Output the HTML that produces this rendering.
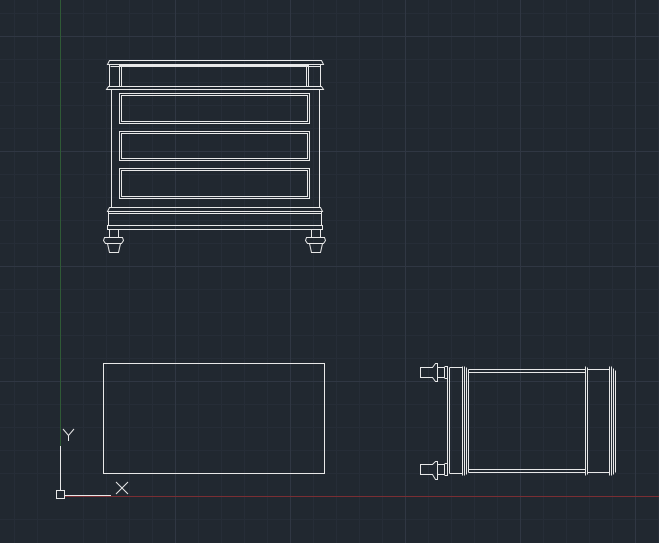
<!DOCTYPE html>
<html><head><meta charset="utf-8"><style>
html,body{margin:0;padding:0;background:#212830;overflow:hidden}
svg{display:block}
text{font-family:"Liberation Sans",sans-serif}
</style></head><body>
<svg width="659" height="543" viewBox="0 0 659 543" xmlns="http://www.w3.org/2000/svg">
<rect width="659" height="543" fill="#212830"/>
<g stroke="#262d37" stroke-width="1">
<path d="M14.5 0V543M37.5 0V543M83.5 0V543M106.5 0V543M129.5 0V543M152.5 0V543M198.5 0V543M221.5 0V543M244.5 0V543M267.5 0V543M313.5 0V543M336.5 0V543M359.5 0V543M382.5 0V543M428.5 0V543M451.5 0V543M474.5 0V543M497.5 0V543M543.5 0V543M566.5 0V543M589.5 0V543M612.5 0V543M658.5 0V543"/>
<path d="M0 13.5H659M0 59.5H659M0 82.5H659M0 105.5H659M0 128.5H659M0 174.5H659M0 197.5H659M0 220.5H659M0 243.5H659M0 289.5H659M0 312.5H659M0 335.5H659M0 358.5H659M0 404.5H659M0 427.5H659M0 450.5H659M0 473.5H659M0 519.5H659"/>
</g>
<g stroke="#303743" stroke-width="1">
<path d="M175.5 0V543M290.5 0V543M405.5 0V543M520.5 0V543M635.5 0V543"/>
<path d="M0 36.5H659M0 151.5H659M0 266.5H659M0 381.5H659"/>
</g>
<line x1="60.5" y1="0" x2="60.5" y2="446" stroke="#2f5a36" stroke-width="1"/>
<line x1="64" y1="496.5" x2="659" y2="496.5" stroke="#7a2e33" stroke-width="1"/>

<g fill="none" stroke="#e8e8e8" stroke-width="1">
<!-- dresser front -->
<path d="M107.5 64.5L109.5 60.5H321.5L323.5 64.5Z"/>
<path d="M109.5 64.5V86.5M320.5 64.5V86.5"/>
<path d="M110.5 66.5H320.5"/>
<rect x="119.5" y="65.5" width="189" height="21"/>
<path d="M121.5 65.5V86.5M306.5 65.5V86.5"/>
<path d="M108.5 86.5L106.5 89.5H323.5L321.5 86.5Z"/>
<path d="M111.5 89.5V207.5M319.5 89.5V207.5"/>
<rect x="119.5" y="93.5" width="190" height="30"/><rect x="121.5" y="95.5" width="186" height="26"/>
<rect x="119.5" y="131.5" width="190" height="29"/><rect x="121.5" y="133.5" width="186" height="25"/>
<rect x="119.5" y="168.5" width="190" height="30"/><rect x="121.5" y="170.5" width="186" height="26"/>
<path d="M109.5 207.5L107.5 211.5H322.5L320.5 207.5Z"/>
<path d="M108.5 211.5V225.5M321.5 211.5V225.5M108.5 213.5H321.5"/>
<path d="M107.5 225.5H322.5V229.5H107.5Z"/>
<path d="M109.5 229.5V237.5M118.5 229.5V237.5M104.5 237.5H122.5L123.5 240.5L121.5 243.5H105.5L103.5 240.5Z M107.5 243.5L109.5 252.5H118.5L120.5 243.5"/>
<path d="M311.5 229.5V237.5M320.5 229.5V237.5M306.5 237.5H324.5L325.5 240.5L323.5 243.5H307.5L305.5 240.5Z M309.5 243.5L311.5 252.5H320.5L322.5 243.5"/>
<!-- plan -->
<rect x="103.5" y="363.5" width="221" height="110"/>
<!-- side view -->
<path d="M420.5 367.5H432.5L435.5 363.5H437.5V381.5H435.5L432.5 377.5H420.5Z"/>
<path d="M437.5 367.5H444.5V377.5H437.5M444.5 366.5H447.5V378.5H444.5"/>
<path d="M420.5 464.5H432.5L435.5 461.5H437.5V479.5H435.5L432.5 474.5H420.5Z"/>
<path d="M437.5 464.5H444.5V474.5H437.5M444.5 463.5H447.5V475.5H444.5"/>
<path d="M447.5 366.5V475.5M449.5 367.5V473.5"/>
<path d="M449.5 367.5H462.5M449.5 473.5H462.5"/>
<path d="M462.5 366.5V475.5M464.5 366.5V475.5M466.5 367.5V474.5M468.5 369.5V472.5"/>
<path d="M468.5 369.5H585.5M468.5 372.5H585.5M468.5 469.5H585.5M468.5 472.5H585.5"/>
<path d="M585.5 366.5V475.5M587.5 367.5V474.5"/>
<path d="M587.5 369.5H609.5M587.5 472.5H609.5"/>
<path d="M609.5 366.5V475.5M611.5 366.5V475.5M613.5 368.5V474.5M615.5 370.5V472.5"/>
<!-- UCS -->
<path d="M60.5 446V491M65 495.5H111"/>
<rect x="56.5" y="490.5" width="8" height="8"/>
<path d="M63 429L68.5 435.5L74 429M68.5 435.5V441"/>
<path d="M116 482L128 494M128 482L116 494"/>
</g>
</svg>
</body></html>
